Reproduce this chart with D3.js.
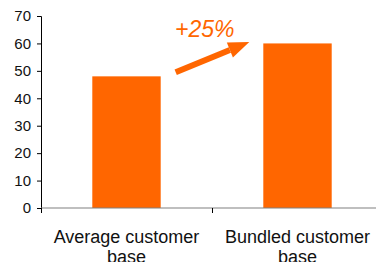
<!DOCTYPE html>
<html>
<head>
<meta charset="utf-8">
<script src="https://cdn.jsdelivr.net/npm/d3@7"></script>
<style>
  body { margin: 0; background: #fff; }
  svg { display: block; font-family: "Liberation Sans", Arial, sans-serif; }
</style>
</head>
<body>
<svg width="376" height="262"></svg>
<script>
// chart data
const categories = ["Average customer base", "Bundled customer base"];
const values = [48, 60];
const yTicks = [0, 10, 20, 30, 40, 50, 60, 70];
const growthLabel = "+25%";

const svg = d3.select("svg");
const margin = {top: 16, right: -7, bottom: 54, left: 41};
const width = 376, height = 262;

const x = d3.scaleBand()
    .domain(categories)
    .range([margin.left, width - margin.right])
    .paddingInner(0.6)
    .paddingOuter(0.3);

const y = d3.scaleLinear()
    .domain([0, 70])
    .range([height - margin.bottom, margin.top]);

const orange = "#ff6600";

// bars
svg.selectAll("rect.bar")
    .data(values)
    .enter()
    .append("rect")
    .attr("class", "bar")
    .attr("x", (d, i) => x(categories[i]))
    .attr("y", d => y(d))
    .attr("width", x.bandwidth())
    .attr("height", d => y(0) - y(d))
    .attr("fill", orange);

// y axis
const yAxis = svg.append("g")
    .attr("transform", `translate(${margin.left},0)`)
    .call(d3.axisLeft(y).tickValues(yTicks).tickSize(4).tickPadding(6));
yAxis.select(".domain").attr("stroke", "#000");
yAxis.selectAll(".tick line").attr("stroke", "#000");
yAxis.selectAll(".tick text")
    .attr("font-size", 15)
    .attr("fill", "#111")
    .attr("font-family", "Liberation Sans, Arial, sans-serif");

// x axis: line plus category boundary ticks
const step = x.step();
const xg = svg.append("g");
xg.append("line")
    .attr("x1", margin.left).attr("x2", width)
    .attr("y1", y(0)).attr("y2", y(0))
    .attr("stroke", "#808080").attr("stroke-width", 1.2);
xg.selectAll("line.tk")
    .data([0, 1, 2])
    .enter()
    .append("line")
    .attr("class", "tk")
    .attr("x1", i => margin.left + i * step + 0.5)
    .attr("x2", i => margin.left + i * step + 0.5)
    .attr("y1", y(0))
    .attr("y2", y(0) + 5)
    .attr("stroke", "#000");

// category labels (two lines)
categories.forEach(c => {
    const words = c.split(" ");
    const t = xg.append("text")
        .attr("x", x(c) + x.bandwidth() / 2)
        .attr("y", y(0) + 35)
        .attr("text-anchor", "middle")
        .attr("font-size", 18)
        .attr("fill", "#111");
    t.append("tspan").attr("x", x(c) + x.bandwidth() / 2).text(words.slice(0, 2).join(" "));
    t.append("tspan").attr("x", x(c) + x.bandwidth() / 2).attr("dy", 20).text(words.slice(2).join(" "));
});

// growth arrow
const x0 = x(categories[0]) + x.bandwidth() + 15;
const y0 = y(values[0] + 1.5);
const x1 = x(categories[1]) - 14;
const y1 = y(values[1] + 0.5);
const ang = Math.atan2(y1 - y0, x1 - x0);
const headLen = 21, headW = 8;
const bx = x1 - headLen * Math.cos(ang), by = y1 - headLen * Math.sin(ang);
svg.append("line")
    .attr("x1", x0).attr("y1", y0)
    .attr("x2", bx).attr("y2", by)
    .attr("stroke", orange).attr("stroke-width", 6);
svg.append("path")
    .attr("d", `M${x1},${y1}L${bx + headW * Math.sin(ang)},${by - headW * Math.cos(ang)}L${bx - headW * Math.sin(ang)},${by + headW * Math.cos(ang)}Z`)
    .attr("fill", orange);

svg.append("text")
    .attr("x", 175)
    .attr("y", 37)
    .attr("font-size", 23)
    .attr("font-style", "italic")
    .attr("fill", orange)
    .text(growthLabel);
</script>
</body>
</html>
